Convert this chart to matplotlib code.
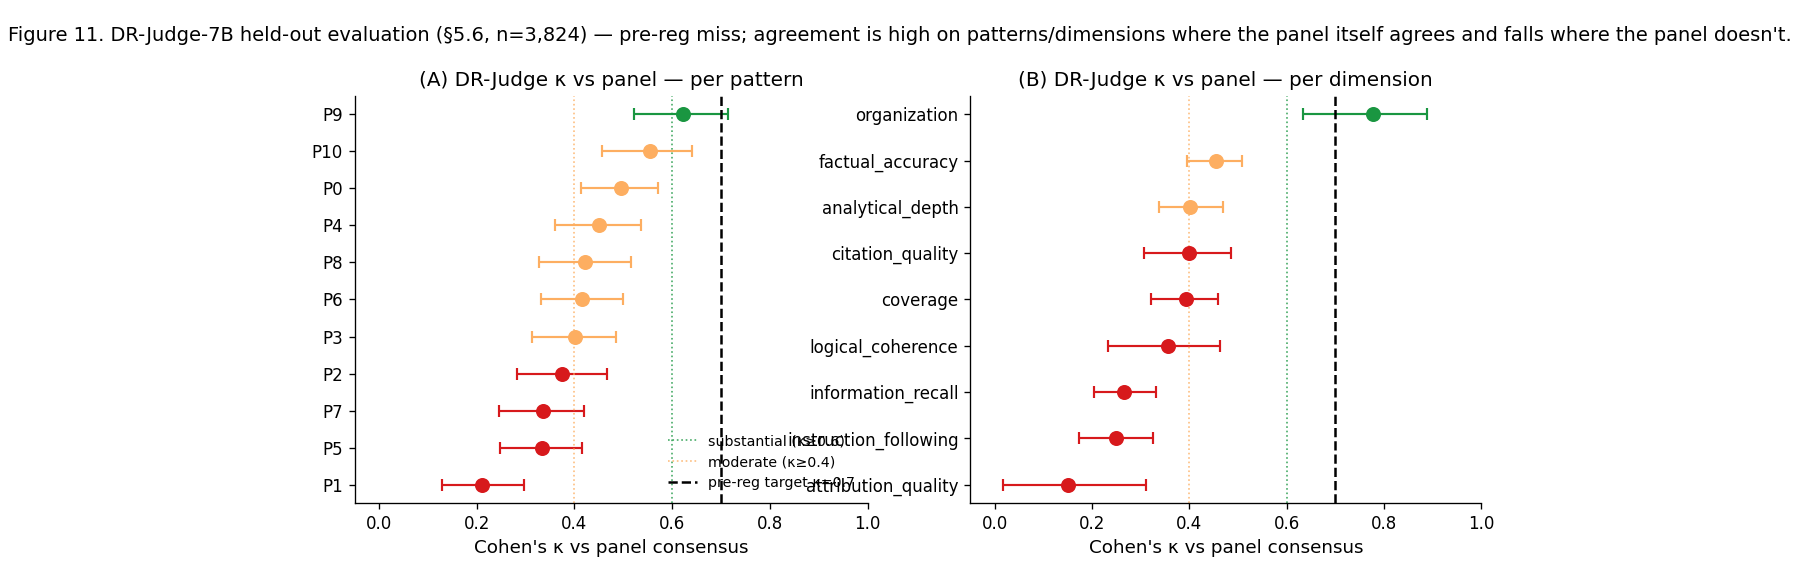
import matplotlib
matplotlib.use("Agg")
import matplotlib.pyplot as plt
import numpy as np

RED, ORANGE, GREEN = "#d7191c", "#fdae61", "#1a9641"

# (A) per pattern, bottom to top
patterns = ["P1", "P5", "P7", "P2", "P3", "P6", "P8", "P4", "P0", "P10", "P9"]
pat_kappa = [0.211, 0.333, 0.335, 0.375, 0.401, 0.416, 0.422, 0.450, 0.495, 0.554, 0.622]
pat_lo = [0.129, 0.248, 0.246, 0.283, 0.313, 0.332, 0.327, 0.361, 0.413, 0.456, 0.522]
pat_hi = [0.296, 0.416, 0.419, 0.467, 0.486, 0.500, 0.515, 0.537, 0.572, 0.641, 0.714]

# (B) per dimension, bottom to top
dims = ["attribution_quality", "instruction_following", "information_recall", "logical_coherence",
        "coverage", "citation_quality", "analytical_depth", "factual_accuracy", "organization"]
dim_kappa = [0.150, 0.250, 0.266, 0.357, 0.393, 0.399, 0.402, 0.454, 0.777]
dim_lo = [0.017, 0.173, 0.204, 0.233, 0.321, 0.307, 0.338, 0.395, 0.634]
dim_hi = [0.311, 0.325, 0.332, 0.463, 0.458, 0.485, 0.469, 0.508, 0.889]

SUBST, MODER, TARGET = 0.6, 0.4, 0.7


def _col(k):
    return GREEN if k >= SUBST else (ORANGE if k >= MODER else RED)


def _panel(ax, names, k, lo, hi, title, legend=False):
    for i, (v, a, b) in enumerate(zip(k, lo, hi)):
        ax.errorbar(v, i, xerr=[[v - a], [b - v]], fmt="o", color=_col(v), ms=8,
                    elinewidth=1.3, capsize=3.5, capthick=1.3)
    ax.axvline(SUBST, ls=":", color=GREEN, lw=1, alpha=.8, label="substantial (κ≥0.6)")
    ax.axvline(MODER, ls=":", color=ORANGE, lw=1, alpha=.8, label="moderate (κ≥0.4)")
    ax.axvline(TARGET, ls="--", color="k", lw=1.5, label="pre-reg target κ=0.7")
    ax.set_yticks(range(len(names)))
    ax.set_yticklabels(names)
    ax.set_xlim(-0.05, 1.0)
    ax.set_xlabel("Cohen's κ vs panel consensus", fontsize=11)
    ax.set_title(title, fontsize=12)
    ax.tick_params(labelsize=10)
    ax.spines["top"].set_visible(False); ax.spines["right"].set_visible(False)
    if legend:
        ax.legend(loc="lower right", fontsize=8.5, frameon=False)


fig = plt.figure(figsize=(15, 571 / 120), dpi=120)
axa = fig.add_axes([0.197, 0.119, 0.285, 0.713])
axb = fig.add_axes([0.539, 0.119, 0.284, 0.713])
_panel(axa, patterns, pat_kappa, pat_lo, pat_hi, "(A) DR-Judge κ vs panel — per pattern", legend=True)
_panel(axb, dims, dim_kappa, dim_lo, dim_hi, "(B) DR-Judge κ vs panel — per dimension")
fig.suptitle("Figure 11. DR-Judge-7B held-out evaluation (§5.6, n=3,824) — pre-reg miss; agreement is high "
             "on patterns/dimensions where the panel itself agrees and falls where the panel doesn't.",
             fontsize=11.6, y=0.955)
fig.savefig("out.png", dpi=120)
